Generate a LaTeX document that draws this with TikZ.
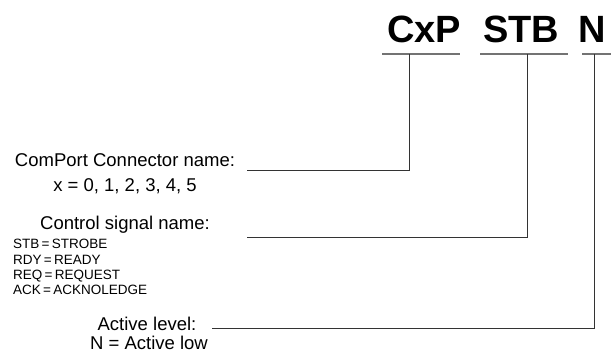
\documentclass[tikz,border=0pt]{standalone}
\usepackage{fontspec}
\setmainfont{Liberation Sans}
\begin{document}
\begin{tikzpicture}[x=1pt,y=-1pt,
  word/.style={inner sep=0pt,anchor=base,font=\fontsize{38}{44}\selectfont\bfseries},
  label/.style={inner sep=0pt,anchor=base,font=\fontsize{18.5}{22}\selectfont},
  small/.style={inner sep=0pt,anchor=base west,font=\fontsize{13.5}{16}\selectfont},
  underline/.style={draw=black!55,line width=1.6pt},
  leader/.style={draw=black!80,line width=0.9pt}]
\useasboundingbox (0,0) rectangle (611,353);

% signal name parts
\node[word] (cxp) at (424,43) {CxP};
\node[word] (stb) at (521,43) {STB};
\node[word] (n)   at (592,43) {N};

% underlines below each part
\coordinate (cxpL) at (382,54);  \coordinate (cxpR) at (460,54);
\coordinate (stbL) at (480,54);  \coordinate (stbR) at (568,54);
\coordinate (nL)   at (582,54);  \coordinate (nR)   at (611,54);
\draw[underline] (cxpL) -- (cxpR);
\draw[underline] (stbL) -- (stbR);
\draw[underline] (nL) -- (nR);

% descriptions
\node[label] (conn) at (125,166.5) {ComPort Connector name:};
\node[label] (connx) at (125,191) {x = 0, 1, 2, 3, 4, 5};
\node[label] (ctrl) at (125,229.5) {Control signal name:};
\node[small] (s1) at (13,248) {STB\,=\,STROBE};
\node[small] (s2) at (13,264) {RDY\,=\,READY};
\node[small] (s3) at (13,279) {REQ\,=\,REQUEST};
\node[small] (s4) at (13,294) {ACK\,=\,ACKNOLEDGE};
\node[label] (act) at (147,330.5) {Active level:};
\node[label] (actn) at (149,349.5) {N = Active low};

% leader lines from each part to its description
\coordinate (cxpT) at (409,54);  \coordinate (connE) at (247,170);
\coordinate (stbT) at (527,54);  \coordinate (ctrlE) at (247,237);
\coordinate (nT)   at (594,54);  \coordinate (actE)  at (212,328);
\draw[leader] (cxpT) |- (connE);
\draw[leader] (stbT) |- (ctrlE);
\draw[leader] (nT) |- (actE);
\end{tikzpicture}
\end{document}
